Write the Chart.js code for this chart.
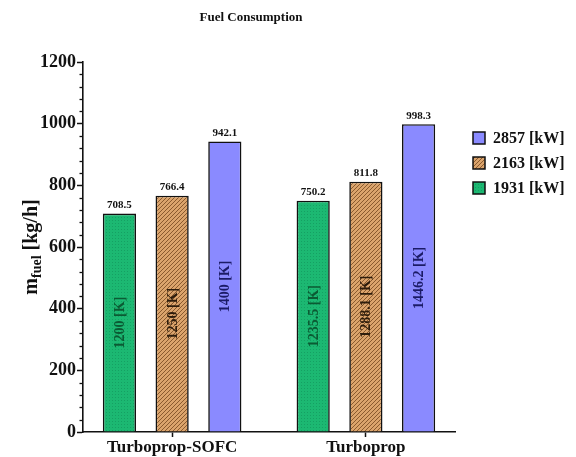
<!DOCTYPE html>
<html>
<head>
<meta charset="utf-8">
<script src="https://cdn.jsdelivr.net/npm/chart.js@4.4.1/dist/chart.umd.min.js"></script>
<style>
  html, body { margin: 0; padding: 0; background: #fff; }
  #wrap { width: 576px; height: 457px; position: relative; }
</style>
</head>
<body>
<div id="wrap"><canvas id="chart"></canvas></div>
<script>
const categories = ['Turboprop-SOFC', 'Turboprop'];
const powerLabels = ['1931 [kW]', '2163 [kW]', '2857 [kW]'];
const fuel1931 = [708.5, 750.2];
const fuel2163 = [766.4, 811.8];
const fuel2857 = [942.1, 998.3];
const temp1931 = ['1200 [K]', '1235.5 [K]'];
const temp2163 = ['1250 [K]', '1288.1 [K]'];
const temp2857 = ['1400 [K]', '1446.2 [K]'];
const yTicks = [0, 200, 400, 600, 800, 1000, 1200];

const SERIF = '"Liberation Serif", "Times New Roman", serif';

function makePattern(kind) {
    const c = document.createElement('canvas');
    const s = kind === 'hatch' ? 4 : 3;
    c.width = s; c.height = s;
    const g = c.getContext('2d');
    if (kind === 'hatch') {
        g.fillStyle = '#dba46c';
        g.fillRect(0, 0, s, s);
        g.strokeStyle = '#8a5a2e';
        g.lineWidth = 1;
        g.beginPath();
        g.moveTo(0, s); g.lineTo(s, 0);
        g.moveTo(-1, 1); g.lineTo(1, -1);
        g.moveTo(s - 1, s + 1); g.lineTo(s + 1, s - 1);
        g.stroke();
    } else {
        g.fillStyle = '#1cb872';
        g.fillRect(0, 0, s, s);
        g.fillStyle = '#15a063';
        g.fillRect(1, 1, 1, 1);
    }
    return g.createPattern(c, 'repeat');
}

const ctx0 = document.getElementById('chart').getContext('2d');
const fills = [makePattern('dots'), makePattern('hatch'), '#8a8aff'];
const innerColors = ['#0b5a33', '#2e1d0c', '#1b1b66'];
const fuelSeries = [fuel1931, fuel2163, fuel2857];
const tempSeries = [temp1931, temp2163, temp2857];

const datasets = fuelSeries.map((vals, k) => ({
    label: powerLabels[k],
    data: vals.map((v, i) => ({ x: i, y: v })),
    backgroundColor: fills[k],
    borderColor: '#111',
    borderWidth: 1.6,
    categoryPercentage: 0.816,
    barPercentage: 0.63,
    temps: tempSeries[k]
}));

const extras = {
    id: 'extras',
    afterDraw(chart) {
        const c = chart.ctx;
        const y = chart.scales.y;
        const area = chart.chartArea;
        c.save();
        // minor ticks
        c.strokeStyle = '#111';
        c.lineWidth = 1.3;
        for (let v = 0; v <= 1200; v += 40) {
            if (v % 200 === 0) continue;
            const py = Math.round(y.getPixelForValue(v)) + 0.5;
            c.beginPath();
            c.moveTo(area.left - 3.5, py);
            c.lineTo(area.left, py);
            c.stroke();
        }
        // title
        c.fillStyle = '#111';
        c.font = 'bold 13px ' + SERIF;
        c.textAlign = 'center';
        c.textBaseline = 'middle';
        c.fillText('Fuel Consumption', 251, 18);
        // y-axis title with subscript
        c.save();
        c.translate(31, 247);
        c.rotate(-Math.PI / 2);
        const big = 'bold 20px ' + SERIF, small = 'bold 14px ' + SERIF;
        c.font = big; const w1 = c.measureText('m').width;
        c.font = small; const w2 = c.measureText('fuel').width;
        c.font = big; const w3 = c.measureText(' [kg/h]').width;
        let x0 = -(w1 + w2 + w3) / 2;
        c.textAlign = 'left';
        c.textBaseline = 'alphabetic';
        c.font = big; c.fillText('m', x0, 6); x0 += w1;
        c.font = small; c.fillText('fuel', x0, 10); x0 += w2;
        c.font = big; c.fillText(' [kg/h]', x0, 6);
        c.restore();
        // legend (reverse order)
        const order = [2, 1, 0];
        order.forEach((k, r) => {
            const cy = 138 + r * 25;
            c.fillStyle = fills[k];
            c.fillRect(473, cy - 6, 12, 12);
            c.strokeStyle = '#111';
            c.lineWidth = 1.5;
            c.strokeRect(473, cy - 6, 12, 12);
            c.fillStyle = '#111';
            c.font = 'bold 16px ' + SERIF;
            c.textAlign = 'left';
            c.textBaseline = 'middle';
            c.fillText(powerLabels[k], 493, cy + 1);
        });
        c.restore();
    },
    afterDatasetsDraw(chart) {
        const c = chart.ctx;
        c.save();
        chart.data.datasets.forEach((ds, k) => {
            const meta = chart.getDatasetMeta(k);
            meta.data.forEach((bar, i) => {
                c.fillStyle = '#111';
                c.font = 'bold 11px ' + SERIF;
                c.textAlign = 'center';
                c.textBaseline = 'bottom';
                c.fillText(ds.data[i].y.toFixed(1), bar.x, bar.y - 3);
                c.save();
                c.translate(bar.x, (bar.y + bar.base) / 2);
                c.rotate(-Math.PI / 2);
                c.fillStyle = innerColors[k];
                c.font = 'bold 14px ' + SERIF;
                c.textBaseline = 'middle';
                c.fillText(ds.temps[i], 0, 1);
                c.restore();
            });
        });
        c.restore();
    }
};

new Chart(ctx0, {
    type: 'bar',
    data: { datasets },
    options: {
        responsive: true,
        maintainAspectRatio: false,
        animation: false,
        layout: { padding: { left: 10, right: 121, top: 62, bottom: 0 } },
        plugins: {
            legend: { display: false },
            tooltip: { enabled: false }
        },
        scales: {
            x: {
                type: 'linear',
                min: -0.46,
                max: 1.46,
                offset: false,
                afterBuildTicks: (s) => { s.ticks = categories.map((_, i) => ({ value: i })); },
                afterFit: (s) => { s.height = 25; },
                ticks: {
                    callback: (v) => categories[v],
                    color: '#111',
                    font: { family: SERIF, size: 17, weight: 'bold' },
                    padding: 0,
                    maxRotation: 0
                },
                grid: { offset: false, drawOnChartArea: false, tickLength: 5, tickColor: '#111', tickWidth: 1.5 },
                border: { color: '#111', width: 1.6 }
            },
            y: {
                min: 0,
                max: 1200,
                afterBuildTicks: (s) => { s.ticks = yTicks.map(v => ({ value: v })); },
                afterFit: (s) => { s.width = 73; },
                ticks: {
                    callback: (v) => String(v),
                    color: '#111',
                    font: { family: SERIF, size: 18, weight: 'bold' },
                    padding: 1
                },
                grid: { drawOnChartArea: false, tickLength: 6, tickColor: '#111', tickWidth: 1.5 },
                border: { color: '#111', width: 1.6 }
            }
        }
    },
    plugins: [extras]
});
</script>
</body>
</html>
